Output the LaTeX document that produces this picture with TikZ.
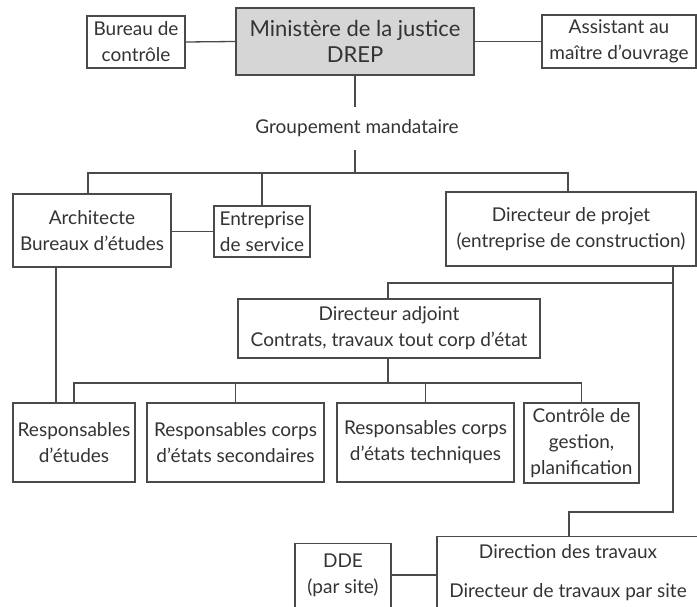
\documentclass[tikz,border=0pt]{standalone}
\usepackage{fontspec}
\setmainfont{Lato}
\definecolor{ln}{HTML}{4A4A4A}
\definecolor{tx}{HTML}{333333}
\definecolor{gbox}{HTML}{D6D6D6}
\begin{document}
\begin{tikzpicture}[x=1pt,y=-1pt,
  every node/.style={text=tx,font=\fontsize{19}{26}\selectfont},
  box/.style={draw=ln,line width=1.3pt,inner sep=0pt,align=center,fill=white},
  conn/.style={draw=ln,line width=1.3pt}]
\useasboundingbox (0,0) rectangle (697,607);
\clip (0,0) rectangle (697,607);
% nodes
\node[box,fill=gbox,minimum width=238,minimum height=67,font=\fontsize{22}{26}\selectfont] (min) at (355,41.5) {Ministère de la justice\\DREP};
\node[box,minimum width=98,minimum height=52] (bc) at (136,42) {Bureau de\\contrôle};
\node[box,minimum width=154,minimum height=53] (amo) at (619,41.5) {Assistant au\\maître d’ouvrage};
\node (grp) at (357,128) {Groupement mandataire};
\node[box,minimum width=158,minimum height=73] (arch) at (92,230.5) {Architecte\\Bureaux d’études};
\node[box,minimum width=96,minimum height=51] (ent) at (262,231.5) {Entreprise\\de service};
\node[box,minimum width=250,minimum height=74] (dp) at (571,229) {Directeur de projet\\(entreprise de construction)};
\node[box,minimum width=302,minimum height=59] (da) at (389,328.5) {Directeur adjoint\\Contrats, travaux tout corp d’état};
\node[box,minimum width=122,minimum height=79] (re) at (74,442.5) {Responsables\\d’études};
\node[box,minimum width=177,minimum height=79] (rs) at (235.5,442.5) {Responsables corps\\d’états secondaires};
\node[box,minimum width=177,minimum height=79] (rt) at (425.5,442.5) {Responsables corps\\d’états techniques};
\node[box,minimum width=115,minimum height=80] (cg) at (581.5,443) {Contrôle de\\gestion,\\planification};
\node[box,minimum width=96,minimum height=100,anchor=north] (dde) at (343,543) {};
\node[align=center,anchor=north] (ddet) at ([yshift=-7]dde.north) {DDE\\(par site)};
\node[box,minimum width=262,minimum height=100,anchor=north] (dt) at (568,536) {};
\node[anchor=north] (dtt1) at ([yshift=-5]dt.north) {Direction des travaux};
\node[anchor=north] (dtt2) at ([yshift=-44]dt.north) {Directeur de travaux par site};
% coordinates
\coordinate (g1) at (355,107);
\coordinate (g2) at (355,150);
\coordinate (h1) at (355,173);
\coordinate (h2) at (673,283);
\coordinate (h3) at (388,383);
\coordinate (h4) at (673,512);
% connectors
\draw[conn] (bc.east) -- (min.west);
\draw[conn] (min.east) -- (amo.west);
\draw[conn] (min.south) -- (g1);
\draw[conn] (g2) -- (h1);
\draw[conn] (h1) -| ([xshift=-4]arch.north);
\draw[conn] (h1) -| (dp.north -| 568,0);
\draw[conn] (ent.north) -- (ent.north |- h1);
\draw[conn] (arch.east |- ent.west) -- (ent.west);
\draw[conn] (arch.south -| 56,0) -- (re.north -| 56,0);
\draw[conn] (dp.south -| h2) -- (h4) -| (dt.north -| 569,0);
\draw[conn] (h2) -| (da.north -| h3);
\draw[conn] (da.south -| h3) -- (h3);
\draw[conn] (re.north) |- (h3) -| (cg.north);
\draw[conn] (rs.north) -- (rs.north |- h3);
\draw[conn] (rt.north) -- (rt.north |- h3);
\draw[conn] (dde.east |- 0,575) -- (dt.west |- 0,575);
\end{tikzpicture}
\end{document}
